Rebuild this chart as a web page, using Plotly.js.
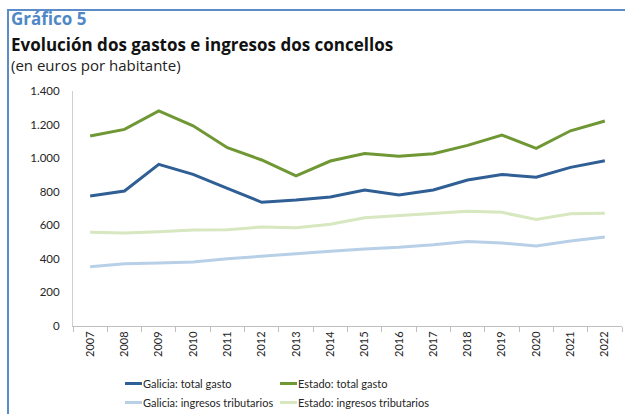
<!DOCTYPE html>
<html>
<head>
<meta charset="utf-8">
<script src="https://cdn.plot.ly/plotly-3.0.1.min.js"></script>
<style>
html,body{margin:0;padding:0;background:#fff;}
#wrap{position:relative;width:625px;height:414px;overflow:hidden;}
#chart{width:625px;height:414px;}
#frame{position:absolute;left:7px;top:9px;width:640px;height:420px;border-top:2px solid #5b8bc9;border-left:2px solid #5b8bc9;pointer-events:none;}
</style>
</head>
<body>
<div id="wrap"><div id="chart"></div><div id="frame"></div></div>
<script>
const years = ['2007','2008','2009','2010','2011','2012','2013','2014','2015','2016','2017','2018','2019','2020','2021','2022'];
const galiciaGasto = [775, 804, 963, 903, 820, 737, 750, 768, 810, 780, 810, 870, 903, 886, 945, 985];
const estadoGasto = [1132, 1171, 1281, 1193, 1062, 989, 895, 983, 1028, 1012, 1026, 1076, 1138, 1058, 1163, 1221];
const galiciaIngresos = [353, 371, 375, 381, 401, 417, 431, 445, 459, 469, 484, 504, 494, 476, 506, 530];
const estadoIngresos = [558, 554, 562, 572, 574, 590, 586, 606, 645, 659, 669, 683, 677, 635, 669, 671];
const seriesNames = ['Galicia: total gasto', 'Estado: total gasto', 'Galicia: ingresos tributarios', 'Estado: ingresos tributarios'];
const yTicks = [0, 200, 400, 600, 800, 1000, 1200, 1400];

const FONT = 'Lato, "Open Sans", sans-serif';
const TFONT = '"Open Sans", Lato, sans-serif';
function tr(y, name, color, legend) {
  return {x: years, y: y, name: name, type: 'scatter', mode: 'lines',
    line: {color: color, width: 3}, legend: legend, hoverinfo: 'x+y'};
}
const data = [
  tr(galiciaIngresos, seriesNames[2], '#b8cfe8', 'legend'),
  tr(estadoIngresos, seriesNames[3], '#d7e7bf', 'legend2'),
  tr(galiciaGasto, seriesNames[0], '#2f5f95', 'legend'),
  tr(estadoGasto, seriesNames[1], '#6f9734', 'legend2')
];
const W = 625, H = 414, ML = 73, MR = 3, MT = 91, MB = 88;
const plotH = H - MT - MB, plotW = W - ML - MR;
function py(pix) { return (H - MB - pix) / plotH; }
function px(pix) { return (pix - ML) / plotW; }
const legendFont = {size: 11, color: '#262626', family: FONT};
const layout = {
  width: W, height: H,
  margin: {l: ML, r: MR, t: MT, b: MB, autoexpand: false},
  paper_bgcolor: '#fff', plot_bgcolor: '#fff',
  separators: ',.',
  font: {family: FONT, size: 11, color: '#262626'},
  showlegend: true,
  legend: {x: px(103), y: py(369), orientation: 'v', traceorder: 'reversed',
    xanchor: 'left', yanchor: 'top', font: legendFont, itemwidth: 30,
    bgcolor: 'rgba(0,0,0,0)', tracegroupgap: 0},
  legend2: {x: px(258), y: py(369), orientation: 'v', traceorder: 'reversed',
    xanchor: 'left', yanchor: 'top', font: legendFont, itemwidth: 30,
    bgcolor: 'rgba(0,0,0,0)', tracegroupgap: 0},
  xaxis: {type: 'category', range: [-0.5, 15.5], tickson: 'boundaries', ticks: 'outside',
    ticklen: 5, tickcolor: '#bfbfbf', showline: true, linecolor: '#bfbfbf', linewidth: 1,
    showgrid: false, tickangle: -90, tickfont: {size: 11, color: '#262626'}, fixedrange: true, automargin: false},
  yaxis: {range: [0, 1400], tickvals: yTicks, tickformat: ',d', showline: true, linecolor: '#d0d0d0',
    showgrid: false, zeroline: false, ticks: '', ticklabelstandoff: 10,
    tickfont: {size: 11.5, color: '#262626'}, fixedrange: true, automargin: false},
  annotations: [
    {text: '<b>Gráfico 5</b>', xref: 'paper', yref: 'paper', x: px(9), y: py(18), xanchor: 'left', yanchor: 'middle',
     showarrow: false, font: {size: 17, color: '#4f88c6', family: TFONT}},
    {text: '<b>Evolución dos gastos e ingresos dos concellos</b>', xref: 'paper', yref: 'paper', x: px(9), y: py(44), xanchor: 'left', yanchor: 'middle',
     showarrow: false, font: {size: 17, color: '#111', family: TFONT}},
    {text: '(en euros por habitante)', xref: 'paper', yref: 'paper', x: px(9), y: py(65), xanchor: 'left', yanchor: 'middle',
     showarrow: false, font: {size: 15, color: '#222', family: TFONT}}
  ]
};
Plotly.newPlot('chart', data, layout, {displayModeBar: false, staticPlot: true}).then(function (gd) {
  // shorten legend line swatches to match the reference's short swatches
  gd.querySelectorAll('.legendlines path').forEach(function (p) { p.setAttribute('d', 'M22,0h17'); });
});
</script>
</body>
</html>
